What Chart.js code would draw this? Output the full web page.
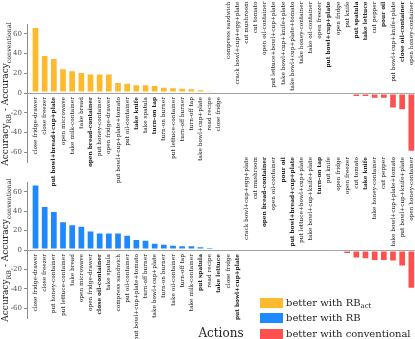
<!DOCTYPE html>
<html>
<head>
<meta charset="utf-8">
<script src="https://cdn.jsdelivr.net/npm/chart.js@4.4.1/dist/chart.umd.min.js"></script>
<style>
html,body{margin:0;padding:0;background:#fff;}
#wrap{position:relative;width:415px;height:339px;overflow:hidden;font-family:'DejaVu Serif',serif;color:#222;}
canvas{position:absolute;left:0;top:0;}
.ytitle{position:absolute;white-space:nowrap;font-size:9px;line-height:9px;transform:translate(-50%,-50%) rotate(-90deg);}
.ytitle sub{font-size:6.3px;vertical-align:-2.5px;}
.xtitle{position:absolute;left:221px;top:327px;transform:translateX(-50%);font-size:12px;line-height:12px;white-space:nowrap;}
.leg{position:absolute;left:260px;height:10px;display:flex;align-items:center;font-size:10px;line-height:10px;white-space:nowrap;}
.leg .sw{display:inline-block;width:23px;height:9.5px;margin-right:3px;}
.leg .s{font-size:7px;position:relative;top:2.5px;}
</style>
</head>
<body>
<div id="wrap">
  <canvas id="c1" width="415" height="339"></canvas>
  <canvas id="c2" width="415" height="339"></canvas>
  <div class="ytitle" style="left:7px;top:94px">Accuracy<sub>RB</sub> - Accuracy<sub>conventional</sub></div>
  <div class="ytitle" style="left:7px;top:250px">Accuracy<sub>RB</sub> - Accuracy<sub>conventional</sub></div>
  <div class="xtitle">Actions</div>
  <div class="leg" style="top:298px"><span class="sw" id="sw1"></span>better with RB<span class="s">act</span></div>
  <div class="leg" style="top:313px"><span class="sw" id="sw2"></span>better with RB</div>
  <div class="leg" style="top:329px"><span class="sw" id="sw3"></span>better with conventional</div>
</div>
<script>
// ---- data ----
const topActions = ["close fridge-drawer","close freezer","put bowl+bread+cup+plate","open microwave","take milk-container","take bread","open bread-container","put honey-container","open fridge-drawer","put bowl+cup+plate+tomato","put oil-container","take knife","take spatula","turn-on tap","turn-on burner","put lettuce-container","turn-off burner","turn-off tap","take bowl+cup+plate","read recipe","close fridge","compress sandwich","crack bowl+cup+egg+plate","cut mushroom","cut tomato","open oil-container","put lettuce+bowl+cup+plate","take bowl+cup+knife+plate","take bowl+cup+plate+tomato","take honey-container","take oil-container","open freezer","put bowl+cup+plate","open fridge","put knife","put spatula","take lettuce","cut pepper","pour oil","put bowl+cup+knife+plate","close oil-container","open honey-container"];
const topValues = [67, 38.6, 35.6, 25, 23, 21.4, 19.7, 19.7, 19.7, 11.2, 10.5, 8.8, 8.8, 8.1, 6.4, 5.8, 5.3, 4.7, 3.7, 2.7, 1.7, 0, 0, 0, 0, 0, 0, 0, 0, 0, 0, -0.4, -1.2, -2, -2.5, -4, -4.1, -5.8, -5.9, -15.8, -17.5, -59.5];

const bottomActions = ["close fridge-drawer","close freezer","put honey-container","put lettuce-container","take bread","open microwave","open fridge-drawer","close oil-container","take spatula","compress sandwich","put oil-container","put bowl+cup+plate+tomato","turn-off burner","take bowl+cup+plate","turn-on burner","take oil-container","turn-off tap","take milk-container","put spatula","read recipe","take lettuce","close fridge","put bowl+cup+plate","crack bowl+cup+egg+plate","cut mushroom","open bread-container","open oil-container","pour oil","put bowl+bread+cup+plate","put lettuce+bowl+cup+plate","take bowl+cup+knife+plate","turn-on tap","put knife","open fridge","open freezer","cut tomato","take knife","take honey-container","cut pepper","take bowl+cup+plate+tomato","put bowl+cup+knife+plate","open honey-container"];
const bottomValues = [67.3, 45.2, 40.2, 29.5, 26.4, 25, 20.2, 18.1, 18.1, 18.1, 15.8, 11.3, 10.6, 7.5, 6.5, 5.5, 4.8, 4.8, 3.8, 3, 2.5, 1.8, 0.7, 0, 0, 0, 0, 0, 0, 0, 0, 0, -1, -2.1, -4, -8.8, -9.6, -11.2, -11.2, -11.8, -17, -40];

const boldActions = ["put bowl+bread+cup+plate","open bread-container","take knife","turn-on tap","put bowl+cup+plate","put spatula","take lettuce","pour oil","close oil-container"];
const yTicks = [-60, -40, -20, 0, 20, 40, 60];

const COLORS = {act:'#FDBA2C', rb:'#1E88FF', conv:'#FF5050'};
document.getElementById('sw1').style.background = COLORS.act;
document.getElementById('sw2').style.background = COLORS.rb;
document.getElementById('sw3').style.background = COLORS.conv;

const catLabels = {
  id:'catLabels',
  afterDatasetsDraw(chart, args, opts){
    const {ctx, scales:{x, y}, chartArea} = chart;
    const y0 = y.getPixelForValue(0);
    ctx.save();
    ctx.fillStyle = '#222';
    opts.labels.forEach((lab, i) => {
      const px = x.getPixelForValue(i);
      const bold = boldActions.includes(lab);
      ctx.font = (bold ? 'bold ' : '') + '5.8px "DejaVu Serif"';
      const py = opts.values[i] > 0 ? y0 + 4 : chartArea.top + opts.topOffset;
      ctx.save();
      ctx.translate(px, py);
      ctx.rotate(-Math.PI/2);
      ctx.textAlign = 'right';
      ctx.textBaseline = 'middle';
      ctx.fillText(lab, 0, 0);
      ctx.restore();
    });
    ctx.restore();
  }
};

function makeChart(id, labels, values, posColor, top, bottom, topOffset){
  const n = labels.length;
  return new Chart(document.getElementById(id), {
    type:'bar',
    data:{
      datasets:[{
        data: values.map((v,i)=>({x:i, y:v})),
        backgroundColor: values.map(v => v > 0 ? posColor : COLORS.conv),
        borderColor: 'rgba(255,255,255,0.45)',
        borderWidth: values.map(v => v === 0 ? 0 : 1),
        borderSkipped: false,
        barPercentage: 0.84,
        categoryPercentage: 1
      }]
    },
    options:{
      responsive:false,
      animation:false,
      events:[],
      layout:{padding:{top:top, bottom:339-bottom, left:0, right:0}},
      plugins:{
        legend:{display:false},
        tooltip:{enabled:false},
        catLabels:{labels:labels, values:values, topOffset:topOffset}
      },
      scales:{
        x:{type:'linear', min:-0.93, max:n-0.6, offset:false, display:false, grid:{offset:false}},
        y:{
          min:-70, max:70,
          afterBuildTicks: s => { s.ticks = yTicks.map(v => ({value:v})); },
          afterFit: s => { s.width = 27; },
          border:{display:true, color:'#8a8a8a', width:1},
          grid:{
            color: c => (c.tick && c.tick.value === 0) ? '#a0a0a0' : 'rgba(0,0,0,0)',
            tickColor:'#8a8a8a', tickLength:3, drawTicks:true
          },
          ticks:{font:{family:'DejaVu Serif', size:7}, color:'#555', padding:2}
        }
      }
    },
    plugins:[catLabels]
  });
}

makeChart('c1', topActions, topValues, COLORS.act, 24, 162, -22.5);
makeChart('c2', bottomActions, bottomValues, COLORS.rb, 182, 318, -25);
</script>
</body>
</html>
